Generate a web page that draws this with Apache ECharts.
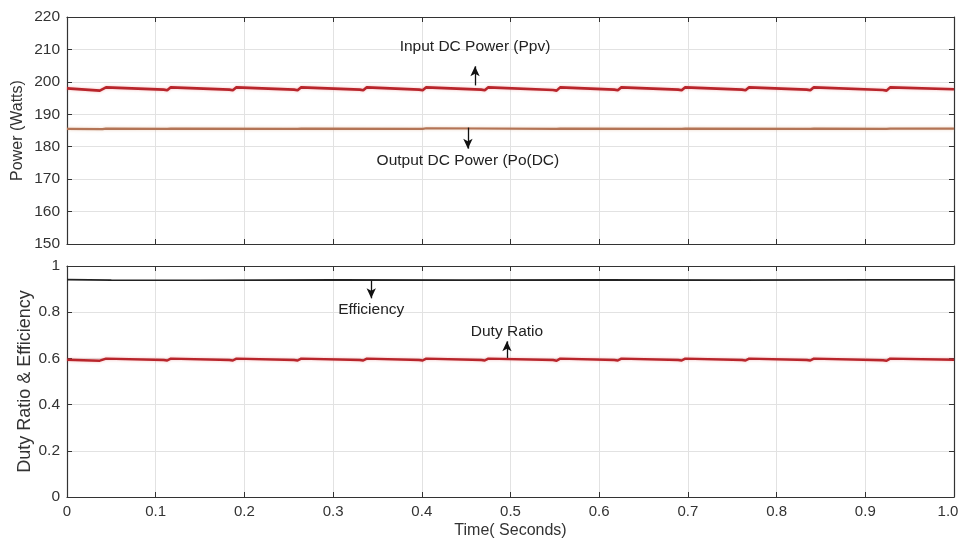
<!DOCTYPE html>
<html><head><meta charset="utf-8">
<script src="https://cdn.jsdelivr.net/npm/echarts@6/dist/echarts.min.js"></script>
<style>html,body{margin:0;padding:0;background:#fff}#c{width:961px;height:544px}</style>
</head><body><div id="c"></div>
<script>
// ---- data ----
const xTickLabels = ['0','0.1','0.2','0.3','0.4','0.5','0.6','0.7','0.8','0.9','1.0'];
const ppvTime  = [0,0.037,0.044, 0.109,0.113,0.117, 0.183,0.187,0.191, 0.256,0.260,0.264, 0.330,0.334,0.338, 0.397,0.401,0.405, 0.467,0.471,0.475, 0.548,0.552,0.556, 0.617,0.621,0.625, 0.689,0.693,0.697, 0.761,0.765,0.769, 0.834,0.838,0.842, 0.920,0.924,0.928, 1.0];
const ppvWatts = [198.0,197.3,198.3, 197.6,197.4,198.3, 197.6,197.4,198.3, 197.6,197.4,198.3, 197.6,197.4,198.3, 197.6,197.4,198.3, 197.6,197.4,198.3, 197.5,197.3,198.3, 197.6,197.4,198.3, 197.6,197.4,198.3, 197.6,197.4,198.3, 197.6,197.4,198.3, 197.5,197.3,198.3, 197.7];
const poTime   = [0,0.040,0.044,0.113,0.117,0.260,0.264,0.401,0.405,0.552,0.556,0.693,0.697,0.838,0.842,0.924,0.928,1.0];
const poWatts  = [185.5,185.4,185.6,185.5,185.6,185.5,185.6,185.5,185.7,185.5,185.6,185.5,185.6,185.5,185.6,185.5,185.6,185.6];
const effTime  = [0,0.05,0.15,0.3,0.45,0.6,0.75,0.9,1.0];
const effValue = [0.941,0.939,0.938,0.940,0.939,0.940,0.939,0.940,0.940];
const dutyTime = [0,0.037,0.044, 0.109,0.113,0.117, 0.183,0.187,0.191, 0.256,0.260,0.264, 0.330,0.334,0.338, 0.397,0.401,0.405, 0.467,0.471,0.475, 0.548,0.552,0.556, 0.617,0.621,0.625, 0.689,0.693,0.697, 0.761,0.765,0.769, 0.834,0.838,0.842, 0.920,0.924,0.928, 1.0];
const dutyValue= [0.594,0.590,0.599, 0.593,0.591,0.599, 0.593,0.591,0.599, 0.593,0.591,0.599, 0.593,0.591,0.599, 0.593,0.591,0.599, 0.593,0.591,0.599, 0.593,0.590,0.599, 0.593,0.591,0.599, 0.593,0.591,0.599, 0.593,0.591,0.599, 0.593,0.591,0.599, 0.592,0.590,0.599, 0.594];
// annotations: [time, fromValue, toValue, text]
const annPpv  = [0.460, 198.9, 204.8, 'Input DC Power (Ppv)'];
const annPo   = [0.452, 185.9, 179.4, 'Output DC Power (Po(DC)'];
const annEff  = [0.343, 0.936, 0.860, 'Efficiency'];
const annDuty = [0.496, 0.602, 0.674, 'Duty Ratio'];

const zip = (a,b)=>a.map((t,i)=>[t,b[i]]);
const axisCol = '#333';
const gridCol = '#e2e2e2';
const labelFont = 'Arial, "Liberation Sans", sans-serif';
const narrowFont = '"Liberation Sans Narrow", "Arial Narrow", "Liberation Sans", sans-serif';

function ann(a, dist){
  return {
    silent:true, symbol:['none','arrow'], symbolSize:[7,10],
    lineStyle:{color:'#111',width:1.3,type:'solid'},
    label:{show:true,position:'end',formatter:a[3],color:'#222',fontSize:15.5,fontFamily:labelFont,distance:dist},
    data:[[{coord:[a[0],a[1]]},{coord:[a[0],a[2]]}]]
  };
}

function xAx(gi, showLabels){
  return {type:'value',gridIndex:gi,min:0,max:1,interval:0.1,
    axisLine:{show:true,onZero:false,lineStyle:{color:axisCol,width:1.2}},
    axisTick:{show:true,inside:true,length:5,lineStyle:{color:axisCol}},
    splitLine:{show:true,lineStyle:{color:gridCol,width:1}},
    axisLabel:{show:showLabels,color:'#333',fontSize:15,fontFamily:narrowFont,margin:7,
      formatter:v=>{const i=Math.round(v*10);return i===10?'{r|'+xTickLabels[i]+'}':xTickLabels[i];},
      rich:{r:{color:'#333',fontSize:15,fontFamily:narrowFont,padding:[0,12,0,0]}}},
    name: showLabels?'Time( Seconds)':'', nameLocation:'middle', nameGap:26,
    nameTextStyle:{color:'#333',fontSize:16,fontFamily:narrowFont}
  };
}
function xTop(gi){
  return {type:'value',gridIndex:gi,position:'top',min:0,max:1,interval:0.1,
    axisLine:{show:true,onZero:false,lineStyle:{color:axisCol,width:1.2}},
    axisTick:{show:true,inside:true,length:5,lineStyle:{color:axisCol}},
    splitLine:{show:false},axisLabel:{show:false}};
}
function yRight(gi,min,max,iv){
  return {type:'value',gridIndex:gi,position:'right',min:min,max:max,interval:iv,
    axisLine:{show:true,onZero:false,lineStyle:{color:axisCol,width:1.2}},
    axisTick:{show:true,inside:true,length:5,lineStyle:{color:axisCol}},
    splitLine:{show:false},axisLabel:{show:false}};
}

const chart = echarts.init(document.getElementById('c'),null,{renderer:'canvas'});
chart.setOption({
  animation:false,
  backgroundColor:'#fff',
  grid:[
    {left:67,right:7,top:17,height:227,outerBoundsMode:'none',containLabel:false},
    {left:67,right:7,top:266,bottom:47,outerBoundsMode:'none',containLabel:false}
  ],
  xAxis:[xAx(0,false), xAx(1,true), xTop(0), xTop(1)],
  yAxis:[
    {type:'value',gridIndex:0,min:150,max:220,interval:10,
      axisLine:{show:true,onZero:false,lineStyle:{color:axisCol,width:1.2}},
      axisTick:{show:true,inside:true,length:5,lineStyle:{color:axisCol}},
      splitLine:{show:true,lineStyle:{color:gridCol}},
      axisLabel:{color:'#333',fontSize:15.5,fontFamily:labelFont,margin:7},
      name:'Power (Watts)',nameLocation:'middle',nameGap:41,nameMoveOverlap:false,
      nameTextStyle:{color:'#333',fontSize:16,fontFamily:labelFont}},
    {type:'value',gridIndex:1,min:0,max:1,interval:0.2,
      axisLine:{show:true,onZero:false,lineStyle:{color:axisCol,width:1.2}},
      axisTick:{show:true,inside:true,length:5,lineStyle:{color:axisCol}},
      splitLine:{show:true,lineStyle:{color:gridCol}},
      axisLabel:{color:'#333',fontSize:15.5,fontFamily:labelFont,margin:7,formatter:v=>String(+v.toFixed(1))},
      name:'Duty Ratio & Efficiency',nameLocation:'middle',nameGap:33,nameMoveOverlap:false,
      nameTextStyle:{color:'#333',fontSize:18,fontFamily:labelFont}},
    yRight(0,150,220,10),
    yRight(1,0,1,0.2)
  ],
  series:[
    {name:'Ppv',type:'line',xAxisIndex:0,yAxisIndex:0,data:zip(ppvTime,ppvWatts),showSymbol:false,
      lineStyle:{color:'#b8252b',width:2.6,shadowColor:'rgba(230,100,100,0.45)',shadowBlur:3},
      markLine:ann(annPpv,12)},
    {name:'Po',type:'line',xAxisIndex:0,yAxisIndex:0,data:zip(poTime,poWatts),showSymbol:false,
      lineStyle:{color:'#b37456',width:2.2,shadowColor:'rgba(220,170,130,0.5)',shadowBlur:3},
      markLine:ann(annPo,4)},
    {name:'Efficiency',type:'line',xAxisIndex:1,yAxisIndex:1,data:zip(effTime,effValue),showSymbol:false,
      lineStyle:{color:'#222',width:1.6},
      markLine:ann(annEff,3)},
    {name:'Duty',type:'line',xAxisIndex:1,yAxisIndex:1,data:zip(dutyTime,dutyValue),showSymbol:false,
      lineStyle:{color:'#b8252b',width:2.4,shadowColor:'rgba(230,100,100,0.45)',shadowBlur:3},
      markLine:ann(annDuty,2)}
  ]
});
</script></body></html>
